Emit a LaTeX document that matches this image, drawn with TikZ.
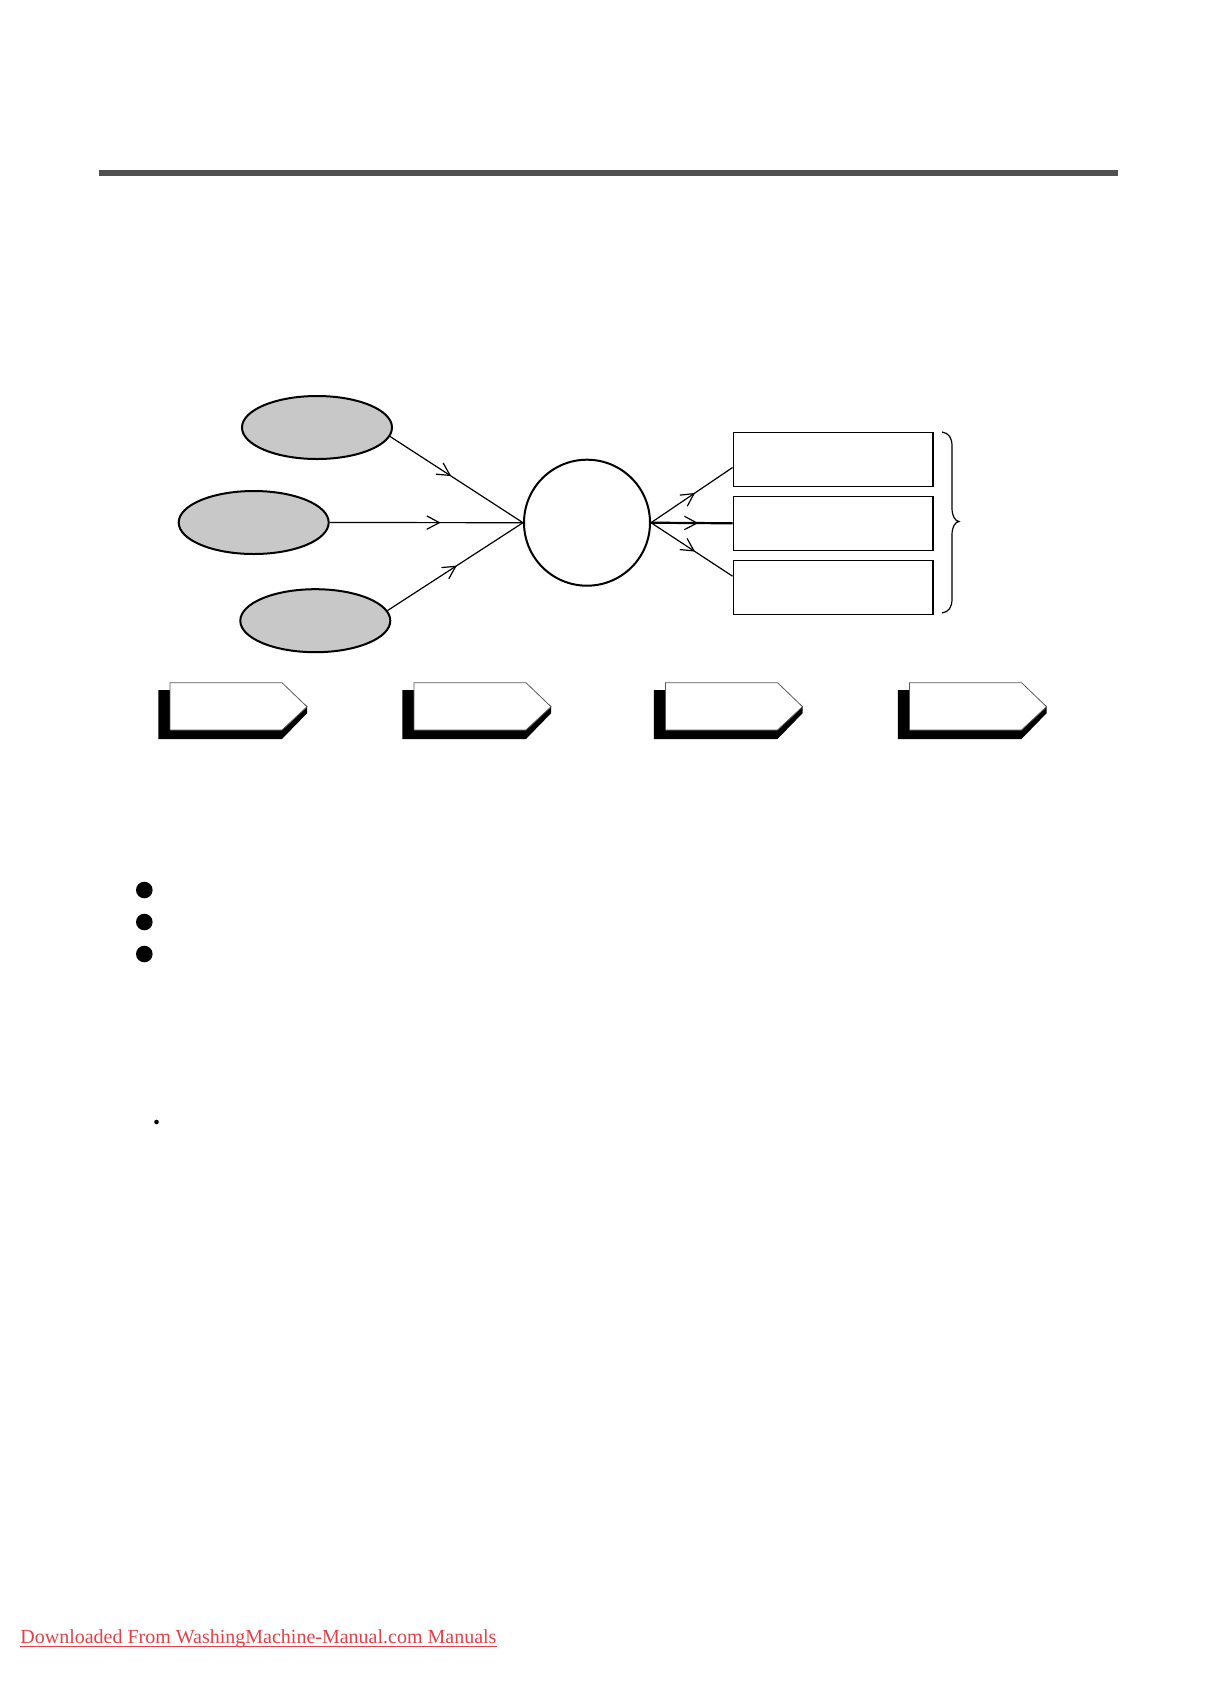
\documentclass[tikz,border=0pt]{standalone}
\usepackage{fontspec}
\setmainfont{Liberation Serif}
\usetikzlibrary{shapes.geometric,arrows.meta,decorations.markings,calc}
\definecolor{rulegray}{RGB}{80,80,80}
\definecolor{ellgray}{RGB}{200,200,200}
\definecolor{footred}{RGB}{228,64,72}
\tikzset{
  ellnode/.style={ellipse, draw=black, fill=ellgray, line width=1pt,
    minimum width=75pt, minimum height=31.5pt, inner sep=0pt},
  hubnode/.style={circle, draw=black, line width=1pt, minimum size=63pt, inner sep=0pt},
  boxnode/.style={rectangle, draw=black, line width=0.75pt,
    minimum width=99.5pt, minimum height=27pt, inner sep=0pt},
  dotnode/.style={circle, fill=black, minimum size=#1, inner sep=0pt},
  conn/.style={line width=0.6pt},
  midarrow/.style={postaction={decorate}, decoration={markings,
    mark=at position #1 with {\arrow{Straight Barb[length=6.3pt,width=6.7pt,line width=0.6pt]}}}},
  tagshadow/.style={fill=black},
  tagface/.style={fill=white, draw=black!65, line width=0.4pt},
  bracepath/.style={line width=0.6pt},
}
\begin{document}
\begin{tikzpicture}[x=0.5pt,y=-0.5pt]
\useasboundingbox (0,0) rectangle (1218,1682);

% top rule
\fill[rulegray] (99,170) rectangle (1118,176);

% input ellipses and hub
\node[ellnode] (e1) at (317,427.5) {};
\node[ellnode] (e2) at (253.7,522.5) {};
\node[ellnode] (e3) at (315.3,620.7) {};
\node[hubnode] (c) at (587,522.7) {};

% output boxes
\node[boxnode] (b1) at (832.8,459.3) {};
\node[boxnode] (b2) at (832.8,523.3) {};
\node[boxnode] (b3) at (832.8,587.3) {};
\foreach \b in {b1,b2,b3}{
  \draw[line width=1.2pt] (\b.north east) -- (\b.south east);
}

% connectors into hub
\draw[conn, midarrow=0.46] (e1.-7) -- (c.west);
\draw[conn, midarrow=0.574] (e2.east) -- (c.west);
\draw[conn, midarrow=0.512] (e3.8) -- (c.west);

% connectors out of hub
\coordinate (b1in) at ($(b1.north west)!0.648!(b1.south west)$);
\coordinate (b3in) at ($(b3.north west)!0.3!(b3.south west)$);
\draw[conn, midarrow=0.54] (c.east) -- (b1in);
\draw[line width=1.1pt, midarrow=0.58] (c.east) -- (b2.west);
\draw[conn, midarrow=0.54] (c.east) -- (b3in);

% brace
\draw[bracepath] (942,432) .. controls (949,433) and (952,438) .. (952,446)
  -- (952,508) .. controls (952,516) and (955,521) .. (959,521.5)
  .. controls (955,522) and (952,527) .. (952,535)
  -- (952,599) .. controls (952,607) and (949,612) .. (942,613);

% tag shapes with shadows
\foreach \X in {170,414,665.5,909.5}{
  \fill[tagshadow] (\X-11.7,690) -- (\X-11.7,739) -- (\X+112,739) -- (\X+137,713.3)
    -- (\X+137,706) -- (\X+112,690) -- cycle;
  \filldraw[tagface] (\X,682.7) -- (\X+112,682.7) -- (\X+137,706.7)
    -- (\X+112,730) -- (\X,730) -- cycle;
}

% bullets
\node[dotnode=8.3pt] (d1) at (144.3,890) {};
\node[dotnode=8.3pt] (d2) at (144.3,922) {};
\node[dotnode=8.3pt] (d3) at (144.3,954) {};
\node[dotnode=2.3pt] (d4) at (156.5,1122) {};

% footer
\node[anchor=base west, inner sep=0pt, text=footred,
  font=\fontsize{10pt}{12pt}\selectfont] (foot) at (20,1643)
  {Downloaded From WashingMachine-Manual.com Manuals};
\draw[footred, line width=0.5pt] ($(foot.base west)+(0,3)$) -- ($(foot.base east)+(0,3)$);
\end{tikzpicture}
\end{document}
